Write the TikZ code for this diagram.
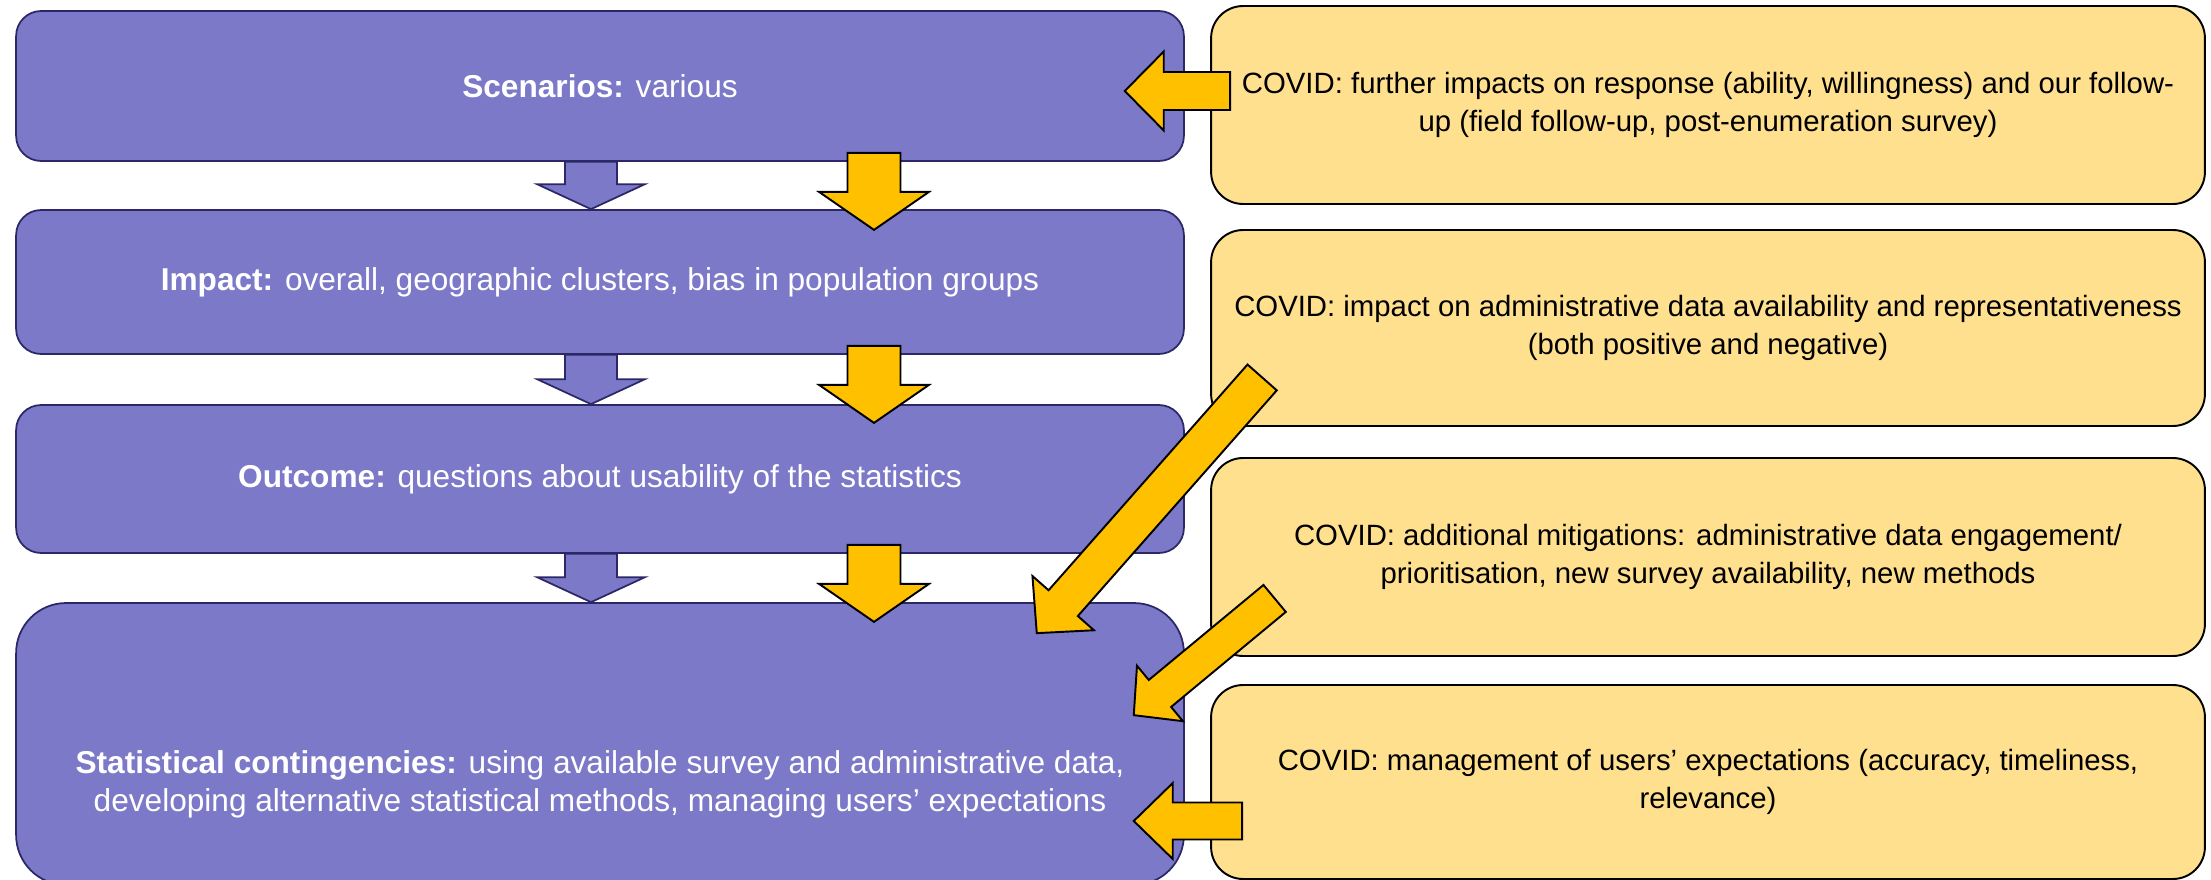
\documentclass[tikz,border=0pt]{standalone}
\usepackage{fontspec}
\setmainfont{Liberation Sans}
\usetikzlibrary{calc}
\definecolor{boxpurple}{RGB}{124,121,201}
\definecolor{edgepurple}{RGB}{44,40,104}
\definecolor{covidfill}{RGB}{255,224,143}
\definecolor{covidgold}{RGB}{255,192,0}
\newcommand{\blockarrow}[6]{%
  \coordinate (ba-a) at (#2);
  \coordinate (ba-b) at (#3);
  \coordinate (ba-h) at ($(ba-b)!#6*0.02cm!(ba-a)$);
  \filldraw[#1] ($(ba-a)!#4*0.02cm!90:(ba-b)$) -- ($(ba-h)!#4*0.02cm!90:(ba-b)$)
    -- ($(ba-h)!#5*0.02cm!90:(ba-b)$) -- (ba-b) -- ($(ba-h)!#5*0.02cm!-90:(ba-b)$)
    -- ($(ba-h)!#4*0.02cm!-90:(ba-b)$) -- ($(ba-a)!#4*0.02cm!-90:(ba-b)$) -- cycle;}
\begin{document}
\begin{tikzpicture}[x=0.02cm,y=-0.02cm,font=\fontsize{18}{21.5}\selectfont,
  stagebox/.style={draw=edgepurple,fill=boxpurple,line width=1pt,text=white,align=center,
    inner sep=0pt,minimum width=23.36cm,rounded corners=0.5cm},
  covidbox/.style={draw=black,fill=covidfill,line width=1.1pt,align=center,
    font=\fontsize{16.7}{21.5}\selectfont,
    inner sep=0pt,minimum width=19.88cm,rounded corners=0.64cm},
  stageflow/.style={draw=edgepurple,fill=boxpurple,line width=1pt},
  covidflow/.style={draw=black,fill=covidgold,line width=1.1pt}]
\useasboundingbox (0,0) rectangle (2211,879);
\node[stagebox,minimum height=3cm] (s1) at (600,86) {\textbf{Scenarios:} various};
\node[stagebox,minimum height=2.88cm] (s2) at (600,282) {\textbf{Impact:} overall, geographic clusters, bias in population groups};
\node[stagebox,minimum height=2.96cm] (s3) at (600,479) {\textbf{Outcome:} questions about usability of the statistics};
\node[stagebox,minimum height=5.64cm,rounded corners=1cm,
  label={[text=white,align=center,yshift=-0.8cm]center:{\textbf{Statistical contingencies:} using available survey and administrative data,\\developing alternative statistical methods, managing users’ expectations}}] (s4) at (600,744) {};
\node[covidbox,minimum height=3.96cm] (cA) at (1708,105) {COVID: further impacts on response (ability, willingness) and our follow-\\up (field follow-up, post-enumeration survey)};
\node[covidbox,minimum height=3.92cm] (cB) at (1708,328) {COVID: impact on administrative data availability and representativeness\\(both positive and negative)};
\node[covidbox,minimum height=3.96cm] (cC) at (1708,557) {COVID: additional mitigations: administrative data engagement/\\prioritisation, new survey availability, new methods};
\node[covidbox,minimum height=3.88cm] (cD) at (1708,782) {COVID: management of users’ expectations (accuracy, timeliness,\\relevance)};
\coordinate (pcol) at (591,0);
\coordinate (ycol) at (874,0);
\foreach \a/\b in {s1/s2,s2/s3,s3/s4}
{
    \blockarrow{stageflow}{pcol |- \a.south}{pcol |- \b.north}{26}{54}{25}
    \blockarrow{covidflow}{$(ycol |- \a.south)+(0,-9)$}{$(ycol |- \a.south)+(0,68)$}{26.5}{55}{38}
}
\blockarrow{covidflow}{$(cA.west)+(20,-14)$}{$(s1.east)+(-60,5)$}{19}{39.5}{39}
\blockarrow{covidflow}{$(cB.south west)+(52,-49.5)$}{$(s4.north east)+(-148,31)$}{19.5}{41}{40}
\blockarrow{covidflow}{$(cC.south west)+(64.5,-58.5)$}{$(s4.north east)+(-51,113)$}{17.5}{36}{34}
\blockarrow{covidflow}{$(cD.west)+(32,39)$}{$(s4.east)+(-51,77)$}{18.5}{38}{39}
\end{tikzpicture}
\end{document}
